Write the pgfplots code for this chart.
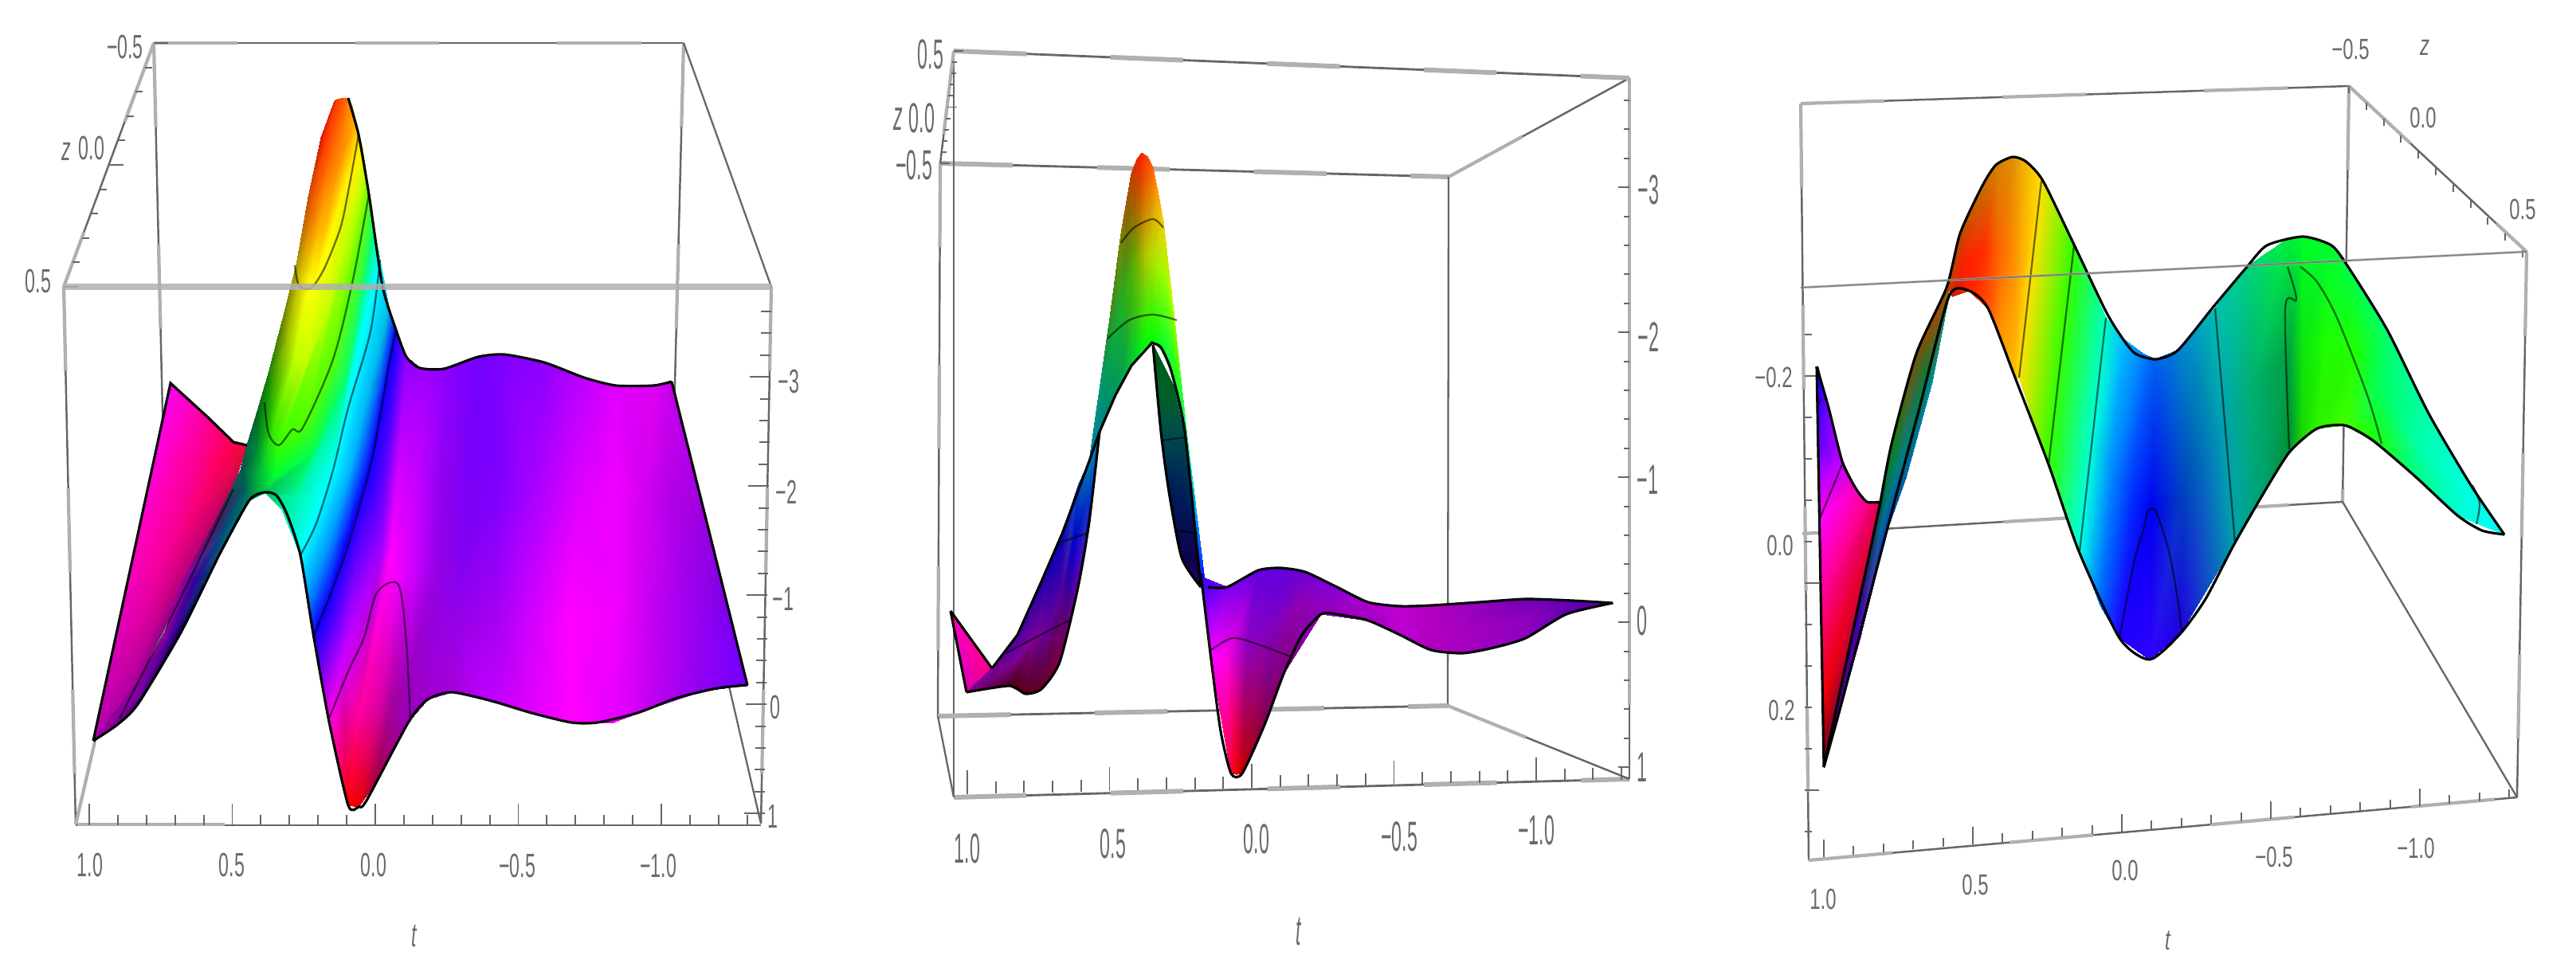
\documentclass[border=0pt]{standalone}
\usepackage{pgfplots}
\usepackage{graphicx}
\usepackage{fontspec}
\setmainfont{Liberation Sans}
\pgfplotsset{compat=1.18}
\definecolor{dk}{HTML}{666666}
\definecolor{lt}{HTML}{B0B0B0}
\definecolor{tx}{HTML}{6A6A6A}
\newcommand{\msh}[2]{\addplot[surf,shader=interp,mesh/color input=explicit,mesh/cols=#1,table/meta=c,forget plot] table[row sep=\\]{x y c\\ #2};}
\newcommand{\bl}[1]{\addplot[dk,line width=.7pt,forget plot] coordinates {#1};\addplot[lt,line width=1.2pt,dash pattern=on 30pt off 42pt,forget plot] coordinates {#1};}
\newcommand{\bt}[1]{\addplot[dk,line width=.8pt,forget plot] coordinates {#1};\addplot[lt,line width=1.7pt,dash pattern=on 26pt off 30pt,forget plot] coordinates {#1};}
\newcommand{\dl}[1]{\addplot[dk,line width=.65pt,forget plot] coordinates {#1};}
\newcommand{\edgeS}[1]{\addplot[black,line width=.9pt,smooth,tension=.4,forget plot] coordinates {#1};}
\newcommand{\edgeL}[1]{\addplot[black,line width=.9pt,forget plot] coordinates {#1};}
\newcommand{\ct}[1]{\addplot[black,opacity=.55,line width=.65pt,smooth,tension=.5,forget plot] coordinates {#1};}
% x0 y0 dx dy n vx vy offset
\newcommand{\ticks}[8]{\pgfplotsinvokeforeach{0,...,#5}{%
 \pgfmathsetmacro\xa{#1+##1*#3}\pgfmathsetmacro\ya{#2+##1*#4}%
 \pgfmathsetmacro\ff{ifthenelse(mod(##1,5)==#8,1,0.5)}%
 \pgfmathsetmacro\xb{\xa+\ff*#6}\pgfmathsetmacro\yb{\ya+\ff*#7}%
 \edef\tmp{\noexpand\addplot[dk,line width=.55pt,forget plot] coordinates {(\xa,\ya)(\xb,\yb)};}\tmp}}
\newcommand{\la}[3]{\node[tx,inner sep=0pt] at (axis cs:#1,#2) {\scalebox{.66}[1.2]{#3}};}
\newcommand{\lb}[3]{\node[tx,inner sep=0pt] at (axis cs:#1,#2) {\scalebox{.66}[1.5]{#3}};}
\newcommand{\lc}[3]{\node[tx,inner sep=0pt] at (axis cs:#1,#2) {\scalebox{.68}[1.04]{#3}};}
\begin{document}
\begin{tikzpicture}
\begin{axis}[scale only axis,width=32.33cm,height=12.18cm,xmin=0,xmax=3233,ymin=0,ymax=1218,y dir=reverse,axis lines=none,clip=false]
\path (axis cs:0,0) rectangle (axis cs:3233,1218);
% ===== PANEL 1 =====
\bl{(193,54)(858,54)}\bl{(193,54)(205,560)}\bl{(858,54)(845,560)}
\bl{(80,360)(95,1035)}\bl{(193,54)(80,360)}\dl{(858,54)(968,360)}
\bl{(95,1035)(205,560)}\dl{(955,1034)(845,560)}
\dl{(95,1036)(955,1036)}\addplot[lt,line width=1.2pt,forget plot] coordinates {(97,1035)(282,1035)};
\bl{(968,360)(955,1034)}
\ticks{112}{1036}{35.9}{0}{23}{0}{-27}{0}
\ticks{968}{391}{-0.36}{27.4}{23}{-26}{0}{3}
\ticks{193}{54}{-11.3}{30.6}{10}{18}{0}{0}
\la{113}{1086}{1.0}\la{291}{1086}{0.5}\la{469}{1086}{0.0}\la{649}{1087}{−0.5}\la{826}{1087}{−1.0}
\la{520}{1175}{\textit{t}}
\la{990}{479}{−3}\la{987}{618}{−2}\la{983}{752}{−1}\la{973}{888}{0}\la{970}{1025}{1}
\la{157}{59}{−0.5}\la{115}{186}{0.0}\la{83}{190}{\textit{z}}\la{48}{353}{0.5}
% pink piece
\msh{3}{214 481 rgb=1,0,.95\\ 165 705 rgb=1,0,.75\\ 117 930 rgb=.7,0,.7\\
260 523 rgb=1,0,.6\\ 205 705 rgb=.95,0,.6\\ 147 905 rgb=.65,0,.65\\
293 555 rgb=1,0,.3\\ 250 650 rgb=.9,0,.45\\ 180 840 rgb=.6,0,.6\\
310 559 rgb=.9,.05,.2\\ 290 620 rgb=.75,0,.35\\ 222 750 rgb=.55,0,.55\\}
% under band
\msh{3}{302 590 rgb=0,.4,.3\\ 308 610 rgb=0,.35,.4\\ 313 628 rgb=0,.5,.35\\
270 655 rgb=.35,.05,.35\\ 280 670 rgb=0,.3,.5\\ 285 680 rgb=0,.45,.45\\
230 728 rgb=.6,0,.6\\ 245 728 rgb=.2,0,.6\\ 260 722 rgb=0,.2,.45\\
207 794 rgb=.6,0,.65\\ 217 794 rgb=.3,0,.6\\ 227 794 rgb=0,0,.35\\
170 860 rgb=.55,0,.6\\ 175 870 rgb=.5,0,.65\\ 178 878 rgb=.3,0,.5\\
117 930 rgb=.6,0,.6\\ 130 920 rgb=.6,0,.6\\ 147 910 rgb=.55,0,.6\\}
% ridge
\msh{7}{420 127 rgb=.8,.12,0\\ 424 125 rgb=1,.25,0\\ 428 124 rgb=1,.3,0\\ 432 123 rgb=1,.35,0\\ 435 123 rgb=1,.4,0\\ 437 123 rgb=1,.5,0\\ 442 133 rgb=1,.6,0\\
403 173 rgb=.85,.1,0\\ 408 185 rgb=1,.25,0\\ 414 198 rgb=1,.4,0\\ 420 205 rgb=1,.5,0\\ 428 195 rgb=1,.55,0\\ 437 175 rgb=1,.6,0\\ 447 155 rgb=1,.7,0\\
387 248 rgb=.8,.3,0\\ 393 268 rgb=.95,.45,0\\ 402 285 rgb=1,.7,0\\ 408 290 rgb=1,.75,0\\ 420 255 rgb=1,.78,0\\ 433 215 rgb=1,.8,0\\ 450 169 rgb=1,.85,0\\
372 333 rgb=.65,.6,0\\ 378 350 rgb=.85,.8,0\\ 387 360 rgb=1,1,0\\ 393 362 rgb=1,1,0\\ 410 315 rgb=1,1,0\\ 430 245 rgb=1,.95,0\\ 455 185 rgb=1,.95,0\\
355 400 rgb=.4,.5,0\\ 360 430 rgb=.6,.75,0\\ 370 450 rgb=.75,1,0\\ 385 460 rgb=.75,1,0\\ 415 385 rgb=.75,1,0\\ 437 300 rgb=.75,1,0\\ 459 215 rgb=.75,1,0\\
337 469 rgb=.1,.5,0\\ 338 520 rgb=.1,.7,0\\ 342 545 rgb=.2,.9,0\\ 350 559 rgb=.2,1,0\\ 384 530 rgb=.3,1,0\\ 418 451 rgb=.35,1,0\\ 463 244 rgb=.4,1,0\\
322 520 rgb=0,.4,.15\\ 323 565 rgb=0,.55,.2\\ 330 590 rgb=0,.8,.2\\ 345 600 rgb=0,1,.2\\ 395 570 rgb=0,1,.35\\ 440 470 rgb=0,1,.5\\ 470 290 rgb=0,1,.5\\
310 559 rgb=0,.4,.3\\ 302 590 rgb=0,.3,.3\\ 313 628 rgb=0,.5,.3\\ 333 618 rgb=0,.75,.35\\ 362 648 rgb=0,.95,.7\\ 418 590 rgb=0,1,1\\ 477 326 rgb=0,1,1\\}
% right part
\msh{4}{347 622 rgb=0,.9,.5\\ 390 620 rgb=0,1,.8\\ 418 590 rgb=0,1,1\\ 477 326 rgb=0,1,1\\
377 697 rgb=0,1,1\\ 395 650 rgb=0,1,1\\ 418 590 rgb=0,1,1\\ 477 326 rgb=0,1,1\\
385 750 rgb=0,.6,1\\ 410 690 rgb=0,.6,1\\ 440 590 rgb=0,.7,1\\ 488 385 rgb=0,.75,.9\\
393 800 rgb=.05,0,1\\ 410 760 rgb=.05,0,1\\ 463 590 rgb=.05,0,1\\ 497 414 rgb=.05,0,1\\
413 906 rgb=1,0,.9\\ 430 830 rgb=.8,0,1\\ 480 680 rgb=.6,0,1\\ 510 448 rgb=.55,0,1\\
437 1011 rgb=1,0,0\\ 450 900 rgb=1,0,.6\\ 490 700 rgb=1,0,1\\ 527 462 rgb=.6,0,1\\
450 1013 rgb=.9,0,0\\ 475 900 rgb=.85,0,.6\\ 500 720 rgb=.95,0,1\\ 545 464 rgb=.6,0,1\\
470 985 rgb=.65,0,.25\\ 490 890 rgb=.65,0,.6\\ 520 720 rgb=.8,0,1\\ 560 463 rgb=.55,0,1\\
513 906 rgb=.6,0,.75\\ 515 850 rgb=.6,0,.75\\ 545 720 rgb=.6,0,.9\\ 580 455 rgb=.5,0,1\\
537 878 rgb=.62,0,.8\\ 540 820 rgb=.6,0,.85\\ 560 700 rgb=.55,0,.92\\ 590 452 rgb=.48,0,1\\
567 869 rgb=.65,0,.85\\ 567 800 rgb=.6,0,.9\\ 580 690 rgb=.5,0,.95\\ 600 448 rgb=.45,0,1\\
617 880 rgb=.75,0,1\\ 620 780 rgb=.65,0,.95\\ 625 620 rgb=.5,0,1\\ 633 445 rgb=.5,0,1\\
667 895 rgb=.88,0,1\\ 665 780 rgb=.82,0,1\\ 665 620 rgb=.65,0,1\\ 683 455 rgb=.56,0,1\\
717 907 rgb=1,0,1\\ 715 780 rgb=1,0,1\\ 730 620 rgb=.88,0,1\\ 733 474 rgb=.75,0,1\\
770 907 rgb=.9,0,1\\ 770 770 rgb=.95,0,1\\ 770 620 rgb=.95,0,1\\ 773 484 rgb=.88,0,1\\
820 888 rgb=.75,0,.94\\ 815 760 rgb=.78,0,.94\\ 810 620 rgb=.82,0,.94\\ 820 484 rgb=.88,0,.94\\
880 868 rgb=.56,0,.94\\ 860 755 rgb=.63,0,.94\\ 840 625 rgb=.7,0,.9\\ 832 481 rgb=.82,0,.94\\
938 860 rgb=.44,0,1\\ 910 750 rgb=.5,0,.9\\ 880 630 rgb=.63,0,.88\\ 843 479 rgb=.75,0,.88\\}
\ct{(370,333)(375,358)(390,362)(407,337)(427,287)(437,241)(450,169)}
\ct{(463,244)(443,351)(418,451)(380,537)(367,539)(350,559)(337,544)(332,505)}
\ct{(477,326)(465,416)(437,512)(418,590)(397,657)(377,697)}
\ct{(497,414)(488,459)(467,576)(433,697)(393,800)}
\ct{(413,902)(437,843)(457,800)(473,744)(500,734)(510,807)(515,906)}
\ct{(150,902)(220,764)(293,614)}
\edgeL{(117,930)(214,481)(260,523)(293,555)(310,559)}
\edgeS{(437,123)(450,169)(463,244)(480,359)(497,414)(510,448)(527,462)(557,463)(600,448)(633,445)(683,455)(733,474)(773,484)(820,484)(843,479)}
\edgeL{(843,479)(938,860)}
\edgeS{(117,930)(147,910)(173,884)(227,794)(277,693)(313,628)(333,618)(347,622)(360,645)(377,697)(393,795)(413,906)(437,1011)(450,1013)(460,1005)(513,906)(537,878)(567,869)(617,880)(667,895)(717,907)(750,907)(800,895)(850,876)(900,864)(938,860)}
\addplot[lt,opacity=.85,line width=2pt,forget plot] coordinates {(80,360)(968,360)};
% ===== PANEL 2 =====
\bt{(1197,64)(2045,98)}\bt{(1180,205)(1818,222)}\bl{(1818,222)(2045,98)}
\dl{(1818,222)(1817,886)}\dl{(1197,64)(1197,1001)}\bl{(1180,205)(1177,899)}
\bt{(1177,899)(1817,886)}\bt{(1197,1001)(2045,978)}\dl{(1177,899)(1197,1001)}\bl{(1817,886)(2045,978)}
\addplot[lt,line width=1.2pt,forget plot] coordinates {(2045,98)(2045,885)};\dl{(2045,885)(2045,978)}
\bl{(1197,64)(1180,205)}
\ticks{1214}{997}{35.7}{-0.8}{23}{0}{-30}{0}
\ticks{2045}{126}{0}{36.4}{23}{-14}{0}{3}
\ticks{1197}{64}{-1.7}{14.1}{10}{12}{0}{0}
\lb{1214}{1065}{1.0}\lb{1397}{1059}{0.5}\lb{1577}{1053}{0.0}\lb{1756}{1050}{−0.5}\lb{1928}{1042}{−1.0}
\lb{1630}{1170}{\textit{t}}
\lb{2069}{238}{−3}\lb{2069}{423}{−2}\lb{2068}{602}{−1}\lb{2061}{779}{0}\lb{2061}{963}{1}
\lb{1168}{68}{0.5}\lb{1157}{148}{0.0}\lb{1127}{150}{\textit{z}}\lb{1147}{207}{−0.5}
\msh{2}{1193 767 rgb=1,0,.8\\ 1193 767 rgb=1,0,.8\\ 1213 869 rgb=.85,0,.7\\ 1245 839 rgb=1,0,.5\\}
\msh{3}{1213 869 rgb=.55,0,.55\\ 1213 869 rgb=.55,0,.55\\ 1213 869 rgb=.55,0,.55\\
1245 839 rgb=.5,0,.65\\ 1240 855 rgb=.45,0,.5\\ 1240 865 rgb=.4,0,.3\\
1277 797 rgb=.3,0,.65\\ 1275 830 rgb=.5,0,.6\\ 1267 861 rgb=.3,0,.1\\
1307 730 rgb=.1,0,.65\\ 1300 800 rgb=.5,0,.6\\ 1287 871 rgb=.35,0,.1\\
1320 700 rgb=.05,0,.7\\ 1315 790 rgb=.4,0,.6\\ 1307 865 rgb=.4,0,.15\\
1333 670 rgb=0,0,.75\\ 1332 750 rgb=.35,0,.6\\ 1330 831 rgb=.5,0,.25\\
1353 610 rgb=0,.3,.75\\ 1348 680 rgb=0,0,.8\\ 1353 737 rgb=.4,0,.7\\
1367 579 rgb=0,.5,.7\\ 1367 620 rgb=0,.25,.75\\ 1367 655 rgb=0,.1,.85\\
1380 530 rgb=0,.6,.7\\ 1380 535 rgb=0,.6,.7\\ 1380 542 rgb=0,.6,.7\\}
\msh{2}{1447 433 rgb=0,.35,.1\\ 1447 433 rgb=0,.35,.1\\ 1452 490 rgb=0,.38,.15\\ 1478 495 rgb=0,.38,.15\\ 1457 542 rgb=0,.3,.3\\ 1487 542 rgb=0,.3,.3\\ 1467 617 rgb=0,.1,.35\\ 1497 640 rgb=0,.1,.35\\ 1483 700 rgb=.05,0,.3\\ 1503 700 rgb=.05,0,.3\\ 1507 737 rgb=.15,0,.4\\ 1507 737 rgb=.15,0,.4\\}
\msh{3}{1367 579 rgb=0,.5,.6\\ 1372 560 rgb=0,.5,.6\\ 1380 542 rgb=0,.55,.65\\
1380 489 rgb=0,.63,.44\\ 1380 515 rgb=0,.56,.5\\ 1380 542 rgb=0,.5,.56\\
1393 399 rgb=.2,.55,.1\\ 1393 450 rgb=0,.65,.3\\ 1393 510 rgb=0,.55,.42\\
1407 293 rgb=.5,.5,0\\ 1408 390 rgb=.1,.7,.15\\ 1408 482 rgb=0,.62,.32\\
1420 218 rgb=.75,.25,0\\ 1422 340 rgb=.3,.7,0\\ 1420 459 rgb=0,.8,.2\\
1427 200 rgb=.9,.15,0\\ 1428 330 rgb=.45,.7,0\\ 1428 448 rgb=0,.88,.12\\
1433 192 rgb=1,.12,0\\ 1433 320 rgb=.62,.7,0\\ 1433 440 rgb=0,.95,.06\\
1440 197 rgb=1,.25,0\\ 1437 320 rgb=.68,.76,0\\ 1440 433 rgb=0,1,.02\\
1447 211 rgb=1,.38,0\\ 1442 320 rgb=.7,.82,0\\ 1447 429 rgb=0,1,0\\
1453 240 rgb=1,.62,0\\ 1452 330 rgb=.68,.92,0\\ 1458 440 rgb=0,1,.12\\
1460 278 rgb=.94,.82,0\\ 1462 340 rgb=.62,1,0\\ 1470 466 rgb=0,1,.25\\
1473 391 rgb=.7,1,0\\ 1480 470 rgb=.25,1,0\\ 1487 542 rgb=0,1,.7\\
1490 549 rgb=0,1,.5\\ 1500 630 rgb=0,.75,1\\ 1507 737 rgb=0,.12,1\\
1513 737 rgb=0,0,1\\ 1510 740 rgb=0,0,1\\ 1513 745 rgb=0,0,1\\}
\msh{3}{1510 725 rgb=.2,0,1\\ 1520 828 rgb=1,0,1\\ 1545 971 rgb=1,0,.25\\
1540 737 rgb=.5,0,.94\\ 1540 830 rgb=1,0,.88\\ 1552 972 rgb=.94,0,0\\
1579 716 rgb=.38,0,.88\\ 1565 810 rgb=.56,0,.75\\ 1559 971 rgb=.75,0,0\\
1607 713 rgb=.38,0,.88\\ 1595 790 rgb=.5,0,.75\\ 1587 910 rgb=.5,0,.31\\
1638 718 rgb=.44,0,.82\\ 1625 760 rgb=.56,0,.69\\ 1611 846 rgb=.5,0,.5\\
1678 737 rgb=.53,0,.85\\ 1668 755 rgb=.56,0,.78\\ 1658 771 rgb=.56,0,.69\\
1717 756 rgb=.69,0,.82\\ 1717 768 rgb=.66,0,.78\\ 1717 779 rgb=.63,0,.75\\
1757 761 rgb=.75,0,.82\\ 1757 780 rgb=.75,0,.82\\ 1757 797 rgb=.75,0,.82\\
1796 760 rgb=.69,0,.75\\ 1796 790 rgb=.69,0,.75\\ 1796 816 rgb=.69,0,.75\\
1836 757 rgb=.62,0,.75\\ 1836 790 rgb=.65,0,.75\\ 1836 820 rgb=.65,0,.75\\
1875 755 rgb=.52,0,.72\\ 1875 785 rgb=.6,0,.75\\ 1875 813 rgb=.6,0,.75\\
1915 752 rgb=.44,0,.69\\ 1915 778 rgb=.56,0,.75\\ 1915 801 rgb=.56,0,.75\\
1974 754 rgb=.38,0,.69\\ 1970 762 rgb=.38,0,.69\\ 1966 771 rgb=.38,0,.69\\
2024 757 rgb=.31,0,.63\\ 2024 757 rgb=.31,0,.63\\ 2024 757 rgb=.31,0,.63\\}
\ct{(1407,305)(1423,286)(1447,275)(1460,286)}
\ct{(1390,425)(1417,402)(1447,395)(1477,402)}
\ct{(1458,553)(1487,549)}\ct{(1480,666)(1503,670)}\ct{(1330,681)(1363,670)}
\ct{(1263,820)(1300,800)(1342,779)}
\ct{(1520,816)(1547,801)(1579,809)(1619,824)}
\edgeL{(1193,767)(1245,839)}
\edgeL{(1245,839)(1277,797)(1307,730)(1333,670)(1367,579)(1380,542)(1400,496)(1420,459)(1447,429)}
\edgeS{(1447,431)(1457,436)(1470,466)(1487,542)(1507,737)}
\edgeS{(1447,433)(1457,542)(1467,617)(1483,700)(1507,737)}
\edgeL{(1193,767)(1213,869)}
\edgeS{(1213,869)(1267,861)(1287,871)(1307,865)(1330,831)(1353,737)(1367,655)(1380,542)}
\edgeS{(1516,737)(1540,737)(1579,716)(1607,713)(1638,718)(1678,737)(1717,756)(1757,761)(1796,760)(1856,756)(1915,752)(1974,754)(2024,757)}
\edgeS{(1507,720)(1520,828)(1532,918)(1545,971)(1559,971)(1587,910)(1611,846)(1634,797)(1658,771)(1678,771)(1717,779)(1757,797)(1796,816)(1836,820)(1875,813)(1915,801)(1966,771)(2024,757)}
% ===== PANEL 3 =====
\bl{(2260,130)(2948,108)}\bl{(2948,108)(2940,630)}\bl{(2262,670)(2940,630)}\dl{(2940,630)(3159,1001)}
\bl{(2260,130)(2270,1080)}\bl{(2948,108)(3171,316)}\bl{(3171,316)(3159,1001)}\bl{(2270,1080)(3159,1001)}
\ticks{2289}{1076}{37.4}{-3.2}{23}{0}{-22}{0}
\ticks{2265}{420}{0.012}{52}{12}{18}{0}{1}
\ticks{2948}{108}{21.8}{20.6}{10}{0}{18}{5}
\lc{2288}{1129}{1.0}\lc{2479}{1111}{0.5}\lc{2667}{1093}{0.0}\lc{2854}{1076}{−0.5}\lc{3032}{1065}{−1.0}
\lc{2721}{1181}{\textit{t}}
\lc{2226}{474}{−0.2}\lc{2234}{685}{0.0}\lc{2236}{892}{0.2}
\lc{2950}{62}{−0.5}\lc{3043}{60}{\textit{z}}\lc{3041}{148}{0.0}\lc{3166}{263}{0.5}
\msh{2}{2280 460 rgb=0,0,.94\\ 2282 462 rgb=0,0,.94\\
2281 510 rgb=.2,0,1\\ 2295 512 rgb=.45,0,1\\
2282 560 rgb=.38,0,1\\ 2312 579 rgb=.75,0,1\\
2283 610 rgb=.75,0,1\\ 2329 613 rgb=1,0,.75\\
2284 650 rgb=1,0,1\\ 2343 630 rgb=1,0,.56\\
2285 760 rgb=1,0,.56\\ 2360 630 rgb=.88,0,.31\\
2287 880 rgb=.94,0,0\\ 2329 782 rgb=.75,0,.25\\
2289 963 rgb=.44,0,.12\\ 2305 880 rgb=.5,0,.19\\}
\msh{3}{2289 963 rgb=.31,0,.19\\ 2289 963 rgb=.31,0,.31\\ 2289 963 rgb=.38,0,.5\\
2329 782 rgb=.19,0,.63\\ 2332 795 rgb=.3,0,.7\\ 2335 800 rgb=.5,0,.75\\
2360 630 rgb=0,.31,.19\\ 2364 650 rgb=0,.44,.56\\ 2367 670 rgb=0,.25,.75\\
2374 557 rgb=.06,.5,0\\ 2385 580 rgb=0,.5,.5\\ 2392 600 rgb=0,.38,.63\\
2405 444 rgb=.5,.31,0\\ 2420 470 rgb=0,.5,.25\\ 2425 480 rgb=0,.56,.63\\
2443 361 rgb=.75,.25,0\\ 2445 366 rgb=.5,.38,0\\ 2446 372 rgb=.12,.56,.38\\}
\msh{3}{2443 361 rgb=.75,.25,0\\ 2447 366 rgb=.81,.19,0\\ 2450 372 rgb=.75,.12,0\\
2460 293 rgb=.69,.31,0\\ 2465 330 rgb=1,.12,0\\ 2471 365 rgb=1,.12,0\\
2488 233 rgb=.75,.44,0\\ 2492 310 rgb=1,.19,0\\ 2495 387 rgb=1,.31,0\\
2505 207 rgb=.82,.5,0\\ 2510 320 rgb=1,.4,0\\ 2512 430 rgb=1,.6,0\\
2526 197 rgb=.88,.56,0\\ 2528 335 rgb=1,.56,0\\ 2529 474 rgb=1,.75,0\\
2543 203 rgb=.95,.72,0\\ 2540 340 rgb=1,.72,0\\ 2532 474 rgb=1,.82,0\\
2562 227 rgb=1,.88,0\\ 2548 350 rgb=1,.88,0\\ 2534 474 rgb=1,.88,0\\
2603 308 rgb=.19,1,0\\ 2587 445 rgb=.19,1,0\\ 2571 583 rgb=.19,1,0\\
2643 399 rgb=0,1,.75\\ 2627 545 rgb=0,1,.85\\ 2610 692 rgb=0,1,.9\\
2664 425 rgb=0,.75,1\\ 2650 590 rgb=0,.55,1\\ 2636 760 rgb=0,.4,1\\
2691 445 rgb=0,.5,1\\ 2676 620 rgb=0,.19,1\\ 2660 801 rgb=.12,0,1\\
2705 451 rgb=0,.38,.94\\ 2700 640 rgb=0,0,.94\\ 2698 828 rgb=.19,0,1\\
2733 440 rgb=0,.5,.82\\ 2740 620 rgb=0,.25,.75\\ 2736 796 rgb=.12,0,.88\\
2780 387 rgb=0,.75,.69\\ 2790 535 rgb=0,.63,.69\\ 2805 681 rgb=0,.63,.66\\
2820 335 rgb=0,.82,.5\\ 2825 480 rgb=0,.69,.44\\ 2838 624 rgb=0,.63,.44\\
2871 300 rgb=0,.94,.25\\ 2873 450 rgb=0,.63,.25\\ 2873 568 rgb=0,.56,.19\\
2890 297 rgb=0,1,.15\\ 2890 440 rgb=.05,.9,.05\\ 2890 550 rgb=.1,.85,0\\
2926 308 rgb=0,1,.19\\ 2920 430 rgb=.12,1,0\\ 2908 538 rgb=.19,.94,0\\
2947 335 rgb=0,1,.25\\ 2955 440 rgb=.12,1,0\\ 2943 534 rgb=.25,1,0\\
2996 414 rgb=0,1,.44\\ 2990 490 rgb=0,1,.38\\ 2978 553 rgb=.12,1,0\\
3048 519 rgb=0,1,.69\\ 3040 560 rgb=0,1,.69\\ 3031 598 rgb=0,1,.5\\
3101 609 rgb=0,1,.88\\ 3098 630 rgb=0,1,.88\\ 3084 647 rgb=0,1,.82\\
3143 671 rgb=0,1,1\\ 3143 671 rgb=0,1,1\\ 3143 671 rgb=0,1,1\\}
\ct{(2562,227)(2534,474)}\ct{(2603,308)(2571,583)}\ct{(2643,399)(2610,692)}
\ct{(2660,801)(2678,707)(2691,662)(2696,641)(2706,643)(2722,692)(2733,752)(2738,794)}
\ct{(2780,387)(2805,681)}\ct{(2871,335)(2882,376)(2868,387)(2873,564)}
\ct{(2887,335)(2908,354)(2933,399)(2971,496)(2989,557)}
\ct{(3103,609)(3112,632)(3108,658)}
\ct{(2284,651)(2312,583)}\ct{(2280,511)(2286,500)}
\edgeL{(2289,963)(2280,460)}
\edgeS{(2280,460)(2295,512)(2312,579)(2329,613)(2343,630)(2360,630)}
\edgeL{(2360,630)(2289,963)}
\edgeS{(2360,630)(2374,557)(2405,444)(2443,361)(2460,293)(2488,233)(2505,207)(2526,197)(2543,203)(2564,227)(2602,305)(2643,391)(2664,425)(2680,444)(2705,451)(2733,440)(2778,385)(2820,335)(2845,308)(2890,297)(2926,308)(2947,335)(2996,414)(3048,519)(3101,609)(3143,671)}
\edgeS{(2289,963)(2312,880)(2367,670)(2409,512)(2446,372)(2471,365)(2495,387)(2529,474)(2571,583)(2609,692)(2660,801)(2698,828)(2736,796)(2768,752)(2803,685)(2838,624)(2873,568)(2908,538)(2943,534)(2978,553)(3031,598)(3084,647)(3115,666)(3143,671)}
\addplot[lt,opacity=.7,line width=.9pt,forget plot] coordinates {(2260,361)(3171,316)};
\addplot[dk,opacity=.7,line width=.5pt,forget plot] coordinates {(2260,361)(3171,316)};
\end{axis}
\end{tikzpicture}
\end{document}
